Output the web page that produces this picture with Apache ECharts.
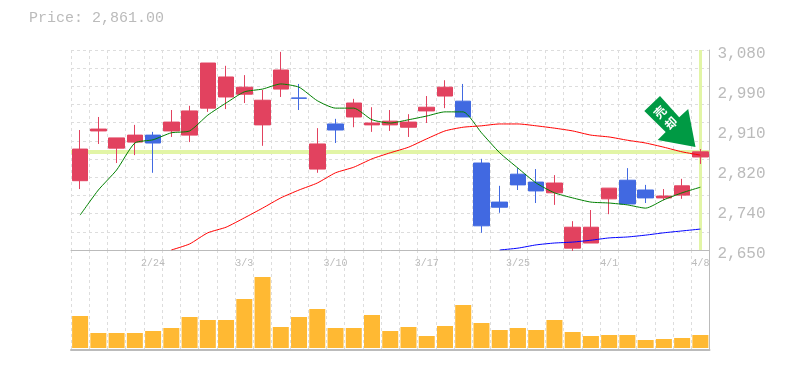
<!DOCTYPE html>
<html><head><meta charset="utf-8">
<style>html,body{margin:0;padding:0;background:#fff}#c{width:785px;height:370px}</style>
<script src="https://cdn.jsdelivr.net/npm/echarts@6/dist/echarts.min.js"></script>
</head><body><div id="c"></div>
<script>
const categories=['2/18','2/19','2/20','2/21','2/24','2/25','2/26','2/27','2/28','3/3','3/4','3/5','3/6','3/7','3/10','3/11','3/12','3/13','3/14','3/17','3/18','3/19','3/21','3/24','3/25','3/26','3/27','3/28','3/31','4/1','4/2','4/3','4/4','4/7','4/8'];
const opens =[2799,2906,2869,2882,2897,2906,2897,2955,2979,2985,2919,2996,2977,2824,2921,2936,2919,2919,2914,2949,2981,2970,2837,2753,2813,2796,2773,2654,2665,2760,2800,2779,2762,2768,2850];
const closes=[2867,2910,2891,2897,2880,2925,2949,3052,3022,3000,2972,3037,2976,2878,2908,2966,2923,2927,2925,2957,3000,2936,2702,2742,2790,2777,2794,2699,2699,2783,2749,2762,2766,2788,2861];
const lows  =[2781,2878,2837,2854,2816,2893,2882,2947,2953,2966,2874,2979,2951,2816,2880,2914,2904,2906,2893,2923,2955,2936,2687,2730,2779,2751,2747,2648,2665,2727,2749,2751,2757,2760,2835];
const highs =[2908,2936,2891,2919,2904,2951,2960,3052,3046,3026,2994,3076,3007,2912,2932,2975,2957,2951,2942,2981,3015,3007,2846,2788,2826,2824,2811,2712,2736,2783,2826,2790,2781,2803,2867];
const volumes=[32,15,15,15,17,20,31,28,28,49,71,21,31,39,20,20,33,17,21,12,22,43,25,18,20,18,28,16,12,13,13,8,9,10,13];
const maShort=[2725,2779,2822,2880,2887,2902,2906,2940,2966,2990,2996,3007,3000,2971,2955,2955,2930,2923,2930,2938,2947,2947,2902,2859,2826,2794,2773,2762,2753,2751,2747,2740,2758,2773,2785];
const maMid=[null,null,null,null,null,2650,2663,2687,2699,2719,2740,2762,2779,2794,2816,2828,2846,2859,2871,2889,2906,2914,2917,2921,2921,2917,2912,2906,2897,2893,2886,2880,2871,2861,2854];
const maLong=[null,null,null,null,null,null,null,null,null,null,null,null,null,null,null,null,null,null,null,null,null,null,null,2650,2654,2661,2665,2667,2671,2676,2678,2682,2687,2691,2695];
const yTickValues=[2650,2736,2822,2908,2994,3080];
const yTickLabels=['2,650','2,740','2,820','2,910','2,990','3,080'];
const lastPrice=2861;
const priceTitle='Price: 2,861.00';
const arrowChars=['売','却'];

const GRAY='#bbbbbb',GRID='#dddddd',PINK='#e2425f',BLUE='#4169e1',HL='#e2f5a6';
const mono='"Liberation Mono",monospace';
const dash={color:GRID,type:[3,3],width:1};
const chart=echarts.init(document.getElementById('c'),null,{renderer:'canvas'});
const lineSer=(name,data,color)=>({name,type:'line',data,xAxisIndex:0,yAxisIndex:0,symbol:'none',smooth:0.2,connectNulls:false,animation:false,silent:true,z:3,lineStyle:{color,width:1},itemStyle:{color}});
chart.setOption({
 animation:false,backgroundColor:'#fff',
 title:{text:priceTitle,left:29,top:11,padding:0,textStyle:{fontFamily:mono,fontSize:15,fontWeight:'normal',color:GRAY}},
 grid:[{left:71,top:50,width:638.5,height:200,containLabel:false},{left:71,top:250,width:638.5,height:100}],
 xAxis:[
  {type:'category',gridIndex:0,data:categories,boundaryGap:true,axisLine:{show:true,onZero:false,lineStyle:{color:GRAY,width:1}},axisTick:{show:false},
   splitLine:{show:true,interval:0,lineStyle:dash},
   axisLabel:{show:true,interval:(i)=>i%5===4,color:GRAY,fontFamily:mono,fontSize:10,margin:8,hideOverlap:false}},
  {type:'category',gridIndex:1,data:categories,boundaryGap:true,axisLine:{show:true,onZero:false,lineStyle:{color:GRAY,width:2}},axisTick:{show:false},axisLabel:{show:false},
   splitLine:{show:true,interval:0,lineStyle:dash}}
 ],
 yAxis:[
  {type:'value',gridIndex:0,position:'right',min:2650,max:3080,axisLine:{show:true,onZero:false,lineStyle:{color:GRAY,width:1}},axisTick:{show:false,customValues:yTickValues},splitLine:{show:false},
   axisLabel:{show:true,customValues:yTickValues,margin:8,color:GRAY,fontFamily:mono,fontSize:16,verticalAlign:'top',lineHeight:8,formatter:(v)=>yTickLabels[yTickValues.indexOf(v)]||''}},
  {type:'value',gridIndex:0,position:'left',min:0,max:11,interval:1,axisLine:{show:false},axisTick:{show:false},axisLabel:{show:false},splitLine:{show:true,lineStyle:dash}},
  {type:'value',gridIndex:1,position:'right',min:-2,max:98,axisLine:{show:true,onZero:false,lineStyle:{color:GRAY,width:1}},axisTick:{show:false},axisLabel:{show:false},splitLine:{show:false}}
 ],
 series:[
  {name:'hl',type:'line',xAxisIndex:0,yAxisIndex:0,data:[],z:1,silent:true,animation:false,
   markLine:{silent:true,animation:false,symbol:'none',label:{show:false},z:1,
    lineStyle:{color:HL,width:4,type:'solid',opacity:1},
    data:[{yAxis:lastPrice},{xAxis:categories[categories.length-1],lineStyle:{color:HL,width:3,type:'solid',opacity:1}}]}},
  {name:'k',type:'candlestick',xAxisIndex:0,yAxisIndex:0,barWidth:16,clip:false,z:2,silent:true,animation:false,
   data:categories.map((_,i)=>[opens[i],closes[i],lows[i],highs[i]]),
   itemStyle:{color:PINK,color0:BLUE,borderColor:PINK,borderColor0:BLUE,borderWidth:1}},
  lineSer('ma5',maShort,'#008000'),
  lineSer('ma25',maMid,'#ff0000'),
  lineSer('ma75',maLong,'#0000ff'),
  {name:'vol',type:'bar',xAxisIndex:1,yAxisIndex:2,data:volumes,barWidth:16,silent:true,animation:false,z:2,itemStyle:{color:'#ffb933'}}
 ],
 graphic:[
  {type:'polygon',z:10,silent:true,shape:{points:[[660,96],[644.3,111],[665.7,132],[657.7,140],[695.5,147],[688.2,109],[679.2,117.3]]},style:{fill:'#009a44'}},
  {type:'text',z:11,silent:true,x:660,y:112,rotation:Math.PI/4,style:{text:arrowChars[0],fill:'#fff',font:'bold 12px "Noto Sans CJK JP"',align:'center',verticalAlign:'middle'}},
  {type:'text',z:11,silent:true,x:671,y:123,rotation:Math.PI/4,style:{text:arrowChars[1],fill:'#fff',font:'bold 12px "Noto Sans CJK JP"',align:'center',verticalAlign:'middle'}}
 ]
});
</script></body></html>
